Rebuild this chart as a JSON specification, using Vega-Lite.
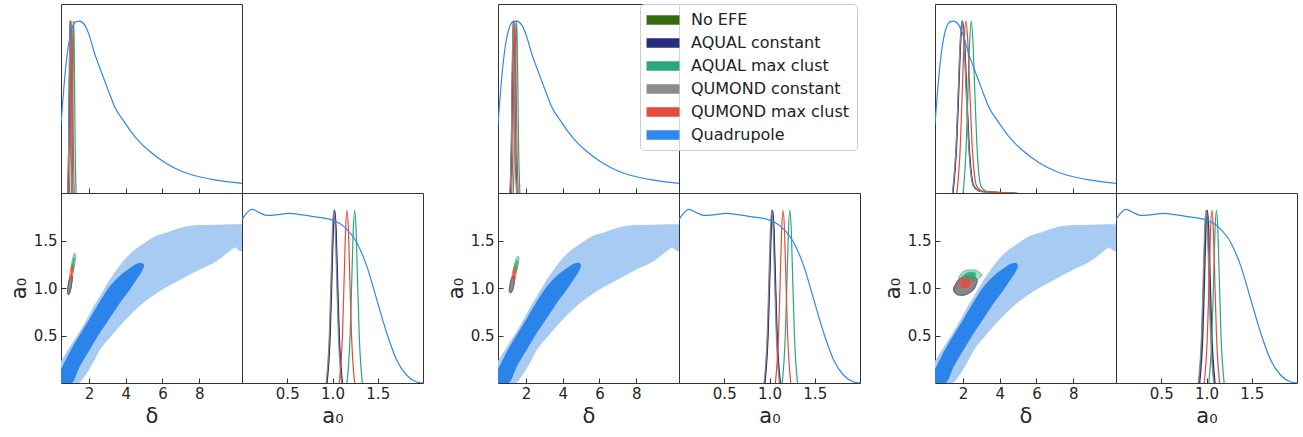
{
"$schema": "https://vega.github.io/schema/vega-lite/v6.json",
"padding": {"left": 7, "top": 3, "right": 0, "bottom": 0},
"config": {
 "view": {"stroke": "#333333", "strokeWidth": 1},
 "font": "DejaVu Sans",
 "axis": {"domain": false, "grid": false, "tickColor": "#333333", "tickSize": -5, "tickWidth": 1, "labelFont": "DejaVu Sans", "labelFontSize": 15, "labelColor": "#262626", "titleFont": "DejaVu Sans", "titleFontSize": 21, "titleFontWeight": "normal", "titleColor": "#262626", "labelPadding": 8, "titlePadding": 4}
},
"datasets": {
"lines": [
{"p":1,"m":"d","s":"No EFE","x":0.85,"y":0},{"p":1,"m":"d","s":"No EFE","x":0.90,"y":0.28},{"p":1,"m":"d","s":"No EFE","x":0.93,"y":0.61},{"p":1,"m":"d","s":"No EFE","x":0.955,"y":0.88},{"p":1,"m":"d","s":"No EFE","x":0.98,"y":1},{"p":1,"m":"d","s":"No EFE","x":1.005,"y":0.88},{"p":1,"m":"d","s":"No EFE","x":1.03,"y":0.61},{"p":1,"m":"d","s":"No EFE","x":1.06,"y":0.28},{"p":1,"m":"d","s":"No EFE","x":1.11,"y":0},
{"p":1,"m":"d","s":"AQUAL constant","x":0.86,"y":0},{"p":1,"m":"d","s":"AQUAL constant","x":0.91,"y":0.28},{"p":1,"m":"d","s":"AQUAL constant","x":0.94,"y":0.61},{"p":1,"m":"d","s":"AQUAL constant","x":0.965,"y":0.88},{"p":1,"m":"d","s":"AQUAL constant","x":0.99,"y":1},{"p":1,"m":"d","s":"AQUAL constant","x":1.015,"y":0.88},{"p":1,"m":"d","s":"AQUAL constant","x":1.04,"y":0.61},{"p":1,"m":"d","s":"AQUAL constant","x":1.07,"y":0.28},{"p":1,"m":"d","s":"AQUAL constant","x":1.12,"y":0},
{"p":1,"m":"d","s":"AQUAL max clust","x":1.04,"y":0},{"p":1,"m":"d","s":"AQUAL max clust","x":1.09,"y":0.28},{"p":1,"m":"d","s":"AQUAL max clust","x":1.12,"y":0.61},{"p":1,"m":"d","s":"AQUAL max clust","x":1.145,"y":0.88},{"p":1,"m":"d","s":"AQUAL max clust","x":1.17,"y":1},{"p":1,"m":"d","s":"AQUAL max clust","x":1.195,"y":0.88},{"p":1,"m":"d","s":"AQUAL max clust","x":1.22,"y":0.61},{"p":1,"m":"d","s":"AQUAL max clust","x":1.25,"y":0.28},{"p":1,"m":"d","s":"AQUAL max clust","x":1.30,"y":0},
{"p":1,"m":"d","s":"QUMOND constant","x":0.845,"y":0},{"p":1,"m":"d","s":"QUMOND constant","x":0.895,"y":0.28},{"p":1,"m":"d","s":"QUMOND constant","x":0.925,"y":0.61},{"p":1,"m":"d","s":"QUMOND constant","x":0.95,"y":0.88},{"p":1,"m":"d","s":"QUMOND constant","x":0.975,"y":1},{"p":1,"m":"d","s":"QUMOND constant","x":1.0,"y":0.88},{"p":1,"m":"d","s":"QUMOND constant","x":1.025,"y":0.61},{"p":1,"m":"d","s":"QUMOND constant","x":1.055,"y":0.28},{"p":1,"m":"d","s":"QUMOND constant","x":1.105,"y":0},
{"p":1,"m":"d","s":"QUMOND max clust","x":0.94,"y":0},{"p":1,"m":"d","s":"QUMOND max clust","x":0.99,"y":0.28},{"p":1,"m":"d","s":"QUMOND max clust","x":1.02,"y":0.61},{"p":1,"m":"d","s":"QUMOND max clust","x":1.045,"y":0.88},{"p":1,"m":"d","s":"QUMOND max clust","x":1.07,"y":1},{"p":1,"m":"d","s":"QUMOND max clust","x":1.095,"y":0.88},{"p":1,"m":"d","s":"QUMOND max clust","x":1.12,"y":0.61},{"p":1,"m":"d","s":"QUMOND max clust","x":1.15,"y":0.28},{"p":1,"m":"d","s":"QUMOND max clust","x":1.20,"y":0},

{"p":1,"m":"a","s":"No EFE","x":0.935,"y":0},{"p":1,"m":"a","s":"No EFE","x":0.97,"y":0.28},{"p":1,"m":"a","s":"No EFE","x":0.989,"y":0.61},{"p":1,"m":"a","s":"No EFE","x":1.004,"y":0.88},{"p":1,"m":"a","s":"No EFE","x":1.02,"y":1},{"p":1,"m":"a","s":"No EFE","x":1.036,"y":0.88},{"p":1,"m":"a","s":"No EFE","x":1.051,"y":0.61},{"p":1,"m":"a","s":"No EFE","x":1.07,"y":0.28},{"p":1,"m":"a","s":"No EFE","x":1.105,"y":0},
{"p":1,"m":"a","s":"AQUAL constant","x":0.94,"y":0},{"p":1,"m":"a","s":"AQUAL constant","x":0.975,"y":0.28},{"p":1,"m":"a","s":"AQUAL constant","x":0.994,"y":0.61},{"p":1,"m":"a","s":"AQUAL constant","x":1.009,"y":0.88},{"p":1,"m":"a","s":"AQUAL constant","x":1.025,"y":1},{"p":1,"m":"a","s":"AQUAL constant","x":1.041,"y":0.88},{"p":1,"m":"a","s":"AQUAL constant","x":1.056,"y":0.61},{"p":1,"m":"a","s":"AQUAL constant","x":1.075,"y":0.28},{"p":1,"m":"a","s":"AQUAL constant","x":1.11,"y":0},
{"p":1,"m":"a","s":"AQUAL max clust","x":1.16,"y":0},{"p":1,"m":"a","s":"AQUAL max clust","x":1.195,"y":0.28},{"p":1,"m":"a","s":"AQUAL max clust","x":1.214,"y":0.61},{"p":1,"m":"a","s":"AQUAL max clust","x":1.229,"y":0.88},{"p":1,"m":"a","s":"AQUAL max clust","x":1.245,"y":1},{"p":1,"m":"a","s":"AQUAL max clust","x":1.261,"y":0.88},{"p":1,"m":"a","s":"AQUAL max clust","x":1.276,"y":0.61},{"p":1,"m":"a","s":"AQUAL max clust","x":1.295,"y":0.28},{"p":1,"m":"a","s":"AQUAL max clust","x":1.33,"y":0},
{"p":1,"m":"a","s":"QUMOND constant","x":0.93,"y":0},{"p":1,"m":"a","s":"QUMOND constant","x":0.965,"y":0.28},{"p":1,"m":"a","s":"QUMOND constant","x":0.984,"y":0.61},{"p":1,"m":"a","s":"QUMOND constant","x":0.999,"y":0.88},{"p":1,"m":"a","s":"QUMOND constant","x":1.015,"y":1},{"p":1,"m":"a","s":"QUMOND constant","x":1.031,"y":0.88},{"p":1,"m":"a","s":"QUMOND constant","x":1.046,"y":0.61},{"p":1,"m":"a","s":"QUMOND constant","x":1.065,"y":0.28},{"p":1,"m":"a","s":"QUMOND constant","x":1.10,"y":0},
{"p":1,"m":"a","s":"QUMOND max clust","x":1.075,"y":0},{"p":1,"m":"a","s":"QUMOND max clust","x":1.11,"y":0.28},{"p":1,"m":"a","s":"QUMOND max clust","x":1.129,"y":0.61},{"p":1,"m":"a","s":"QUMOND max clust","x":1.144,"y":0.88},{"p":1,"m":"a","s":"QUMOND max clust","x":1.16,"y":1},{"p":1,"m":"a","s":"QUMOND max clust","x":1.176,"y":0.88},{"p":1,"m":"a","s":"QUMOND max clust","x":1.191,"y":0.61},{"p":1,"m":"a","s":"QUMOND max clust","x":1.21,"y":0.28},{"p":1,"m":"a","s":"QUMOND max clust","x":1.245,"y":0},

{"p":2,"m":"d","s":"No EFE","x":1.14,"y":0},{"p":2,"m":"d","s":"No EFE","x":1.21,"y":0.28},{"p":2,"m":"d","s":"No EFE","x":1.25,"y":0.61},{"p":2,"m":"d","s":"No EFE","x":1.285,"y":0.88},{"p":2,"m":"d","s":"No EFE","x":1.32,"y":1},{"p":2,"m":"d","s":"No EFE","x":1.355,"y":0.88},{"p":2,"m":"d","s":"No EFE","x":1.39,"y":0.61},{"p":2,"m":"d","s":"No EFE","x":1.43,"y":0.28},{"p":2,"m":"d","s":"No EFE","x":1.50,"y":0},
{"p":2,"m":"d","s":"AQUAL constant","x":1.15,"y":0},{"p":2,"m":"d","s":"AQUAL constant","x":1.22,"y":0.28},{"p":2,"m":"d","s":"AQUAL constant","x":1.26,"y":0.61},{"p":2,"m":"d","s":"AQUAL constant","x":1.295,"y":0.88},{"p":2,"m":"d","s":"AQUAL constant","x":1.33,"y":1},{"p":2,"m":"d","s":"AQUAL constant","x":1.365,"y":0.88},{"p":2,"m":"d","s":"AQUAL constant","x":1.40,"y":0.61},{"p":2,"m":"d","s":"AQUAL constant","x":1.44,"y":0.28},{"p":2,"m":"d","s":"AQUAL constant","x":1.51,"y":0},
{"p":2,"m":"d","s":"AQUAL max clust","x":1.31,"y":0},{"p":2,"m":"d","s":"AQUAL max clust","x":1.38,"y":0.28},{"p":2,"m":"d","s":"AQUAL max clust","x":1.42,"y":0.61},{"p":2,"m":"d","s":"AQUAL max clust","x":1.455,"y":0.88},{"p":2,"m":"d","s":"AQUAL max clust","x":1.49,"y":1},{"p":2,"m":"d","s":"AQUAL max clust","x":1.525,"y":0.88},{"p":2,"m":"d","s":"AQUAL max clust","x":1.56,"y":0.61},{"p":2,"m":"d","s":"AQUAL max clust","x":1.60,"y":0.28},{"p":2,"m":"d","s":"AQUAL max clust","x":1.67,"y":0},
{"p":2,"m":"d","s":"QUMOND constant","x":1.13,"y":0},{"p":2,"m":"d","s":"QUMOND constant","x":1.20,"y":0.28},{"p":2,"m":"d","s":"QUMOND constant","x":1.24,"y":0.61},{"p":2,"m":"d","s":"QUMOND constant","x":1.275,"y":0.88},{"p":2,"m":"d","s":"QUMOND constant","x":1.31,"y":1},{"p":2,"m":"d","s":"QUMOND constant","x":1.345,"y":0.88},{"p":2,"m":"d","s":"QUMOND constant","x":1.38,"y":0.61},{"p":2,"m":"d","s":"QUMOND constant","x":1.42,"y":0.28},{"p":2,"m":"d","s":"QUMOND constant","x":1.49,"y":0},
{"p":2,"m":"d","s":"QUMOND max clust","x":1.22,"y":0},{"p":2,"m":"d","s":"QUMOND max clust","x":1.29,"y":0.28},{"p":2,"m":"d","s":"QUMOND max clust","x":1.33,"y":0.61},{"p":2,"m":"d","s":"QUMOND max clust","x":1.365,"y":0.88},{"p":2,"m":"d","s":"QUMOND max clust","x":1.40,"y":1},{"p":2,"m":"d","s":"QUMOND max clust","x":1.435,"y":0.88},{"p":2,"m":"d","s":"QUMOND max clust","x":1.47,"y":0.61},{"p":2,"m":"d","s":"QUMOND max clust","x":1.51,"y":0.28},{"p":2,"m":"d","s":"QUMOND max clust","x":1.58,"y":0},

{"p":2,"m":"a","s":"No EFE","x":0.945,"y":0},{"p":2,"m":"a","s":"No EFE","x":0.98,"y":0.28},{"p":2,"m":"a","s":"No EFE","x":0.999,"y":0.61},{"p":2,"m":"a","s":"No EFE","x":1.014,"y":0.88},{"p":2,"m":"a","s":"No EFE","x":1.03,"y":1},{"p":2,"m":"a","s":"No EFE","x":1.046,"y":0.88},{"p":2,"m":"a","s":"No EFE","x":1.061,"y":0.61},{"p":2,"m":"a","s":"No EFE","x":1.08,"y":0.28},{"p":2,"m":"a","s":"No EFE","x":1.115,"y":0},
{"p":2,"m":"a","s":"AQUAL constant","x":0.95,"y":0},{"p":2,"m":"a","s":"AQUAL constant","x":0.985,"y":0.28},{"p":2,"m":"a","s":"AQUAL constant","x":1.004,"y":0.61},{"p":2,"m":"a","s":"AQUAL constant","x":1.019,"y":0.88},{"p":2,"m":"a","s":"AQUAL constant","x":1.035,"y":1},{"p":2,"m":"a","s":"AQUAL constant","x":1.051,"y":0.88},{"p":2,"m":"a","s":"AQUAL constant","x":1.066,"y":0.61},{"p":2,"m":"a","s":"AQUAL constant","x":1.085,"y":0.28},{"p":2,"m":"a","s":"AQUAL constant","x":1.12,"y":0},
{"p":2,"m":"a","s":"AQUAL max clust","x":1.14,"y":0},{"p":2,"m":"a","s":"AQUAL max clust","x":1.175,"y":0.28},{"p":2,"m":"a","s":"AQUAL max clust","x":1.194,"y":0.61},{"p":2,"m":"a","s":"AQUAL max clust","x":1.209,"y":0.88},{"p":2,"m":"a","s":"AQUAL max clust","x":1.225,"y":1},{"p":2,"m":"a","s":"AQUAL max clust","x":1.241,"y":0.88},{"p":2,"m":"a","s":"AQUAL max clust","x":1.256,"y":0.61},{"p":2,"m":"a","s":"AQUAL max clust","x":1.275,"y":0.28},{"p":2,"m":"a","s":"AQUAL max clust","x":1.31,"y":0},
{"p":2,"m":"a","s":"QUMOND constant","x":0.94,"y":0},{"p":2,"m":"a","s":"QUMOND constant","x":0.975,"y":0.28},{"p":2,"m":"a","s":"QUMOND constant","x":0.994,"y":0.61},{"p":2,"m":"a","s":"QUMOND constant","x":1.009,"y":0.88},{"p":2,"m":"a","s":"QUMOND constant","x":1.025,"y":1},{"p":2,"m":"a","s":"QUMOND constant","x":1.041,"y":0.88},{"p":2,"m":"a","s":"QUMOND constant","x":1.056,"y":0.61},{"p":2,"m":"a","s":"QUMOND constant","x":1.075,"y":0.28},{"p":2,"m":"a","s":"QUMOND constant","x":1.11,"y":0},
{"p":2,"m":"a","s":"QUMOND max clust","x":1.065,"y":0},{"p":2,"m":"a","s":"QUMOND max clust","x":1.10,"y":0.28},{"p":2,"m":"a","s":"QUMOND max clust","x":1.119,"y":0.61},{"p":2,"m":"a","s":"QUMOND max clust","x":1.134,"y":0.88},{"p":2,"m":"a","s":"QUMOND max clust","x":1.15,"y":1},{"p":2,"m":"a","s":"QUMOND max clust","x":1.166,"y":0.88},{"p":2,"m":"a","s":"QUMOND max clust","x":1.181,"y":0.61},{"p":2,"m":"a","s":"QUMOND max clust","x":1.20,"y":0.28},{"p":2,"m":"a","s":"QUMOND max clust","x":1.235,"y":0},

{"p":3,"m":"d","s":"No EFE","x":1.44,"y":0},{"p":3,"m":"d","s":"No EFE","x":1.64,"y":0.28},{"p":3,"m":"d","s":"No EFE","x":1.76,"y":0.61},{"p":3,"m":"d","s":"No EFE","x":1.86,"y":0.88},{"p":3,"m":"d","s":"No EFE","x":1.96,"y":1},{"p":3,"m":"d","s":"No EFE","x":2.07,"y":0.88},{"p":3,"m":"d","s":"No EFE","x":2.18,"y":0.61},{"p":3,"m":"d","s":"No EFE","x":2.32,"y":0.28},{"p":3,"m":"d","s":"No EFE","x":2.58,"y":0.04},{"p":3,"m":"d","s":"No EFE","x":2.96,"y":0.01},{"p":3,"m":"d","s":"No EFE","x":4.76,"y":0},
{"p":3,"m":"d","s":"AQUAL constant","x":1.46,"y":0},{"p":3,"m":"d","s":"AQUAL constant","x":1.66,"y":0.28},{"p":3,"m":"d","s":"AQUAL constant","x":1.78,"y":0.61},{"p":3,"m":"d","s":"AQUAL constant","x":1.88,"y":0.88},{"p":3,"m":"d","s":"AQUAL constant","x":1.98,"y":1},{"p":3,"m":"d","s":"AQUAL constant","x":2.09,"y":0.88},{"p":3,"m":"d","s":"AQUAL constant","x":2.20,"y":0.61},{"p":3,"m":"d","s":"AQUAL constant","x":2.34,"y":0.28},{"p":3,"m":"d","s":"AQUAL constant","x":2.60,"y":0.04},{"p":3,"m":"d","s":"AQUAL constant","x":2.98,"y":0.01},{"p":3,"m":"d","s":"AQUAL constant","x":4.78,"y":0},
{"p":3,"m":"d","s":"AQUAL max clust","x":2.01,"y":0},{"p":3,"m":"d","s":"AQUAL max clust","x":2.18,"y":0.28},{"p":3,"m":"d","s":"AQUAL max clust","x":2.28,"y":0.61},{"p":3,"m":"d","s":"AQUAL max clust","x":2.365,"y":0.88},{"p":3,"m":"d","s":"AQUAL max clust","x":2.45,"y":1},{"p":3,"m":"d","s":"AQUAL max clust","x":2.544,"y":0.88},{"p":3,"m":"d","s":"AQUAL max clust","x":2.64,"y":0.61},{"p":3,"m":"d","s":"AQUAL max clust","x":2.76,"y":0.28},{"p":3,"m":"d","s":"AQUAL max clust","x":2.98,"y":0.04},{"p":3,"m":"d","s":"AQUAL max clust","x":3.3,"y":0.01},{"p":3,"m":"d","s":"AQUAL max clust","x":5.0,"y":0},
{"p":3,"m":"d","s":"QUMOND constant","x":1.43,"y":0},{"p":3,"m":"d","s":"QUMOND constant","x":1.63,"y":0.28},{"p":3,"m":"d","s":"QUMOND constant","x":1.75,"y":0.61},{"p":3,"m":"d","s":"QUMOND constant","x":1.85,"y":0.88},{"p":3,"m":"d","s":"QUMOND constant","x":1.95,"y":1},{"p":3,"m":"d","s":"QUMOND constant","x":2.06,"y":0.88},{"p":3,"m":"d","s":"QUMOND constant","x":2.17,"y":0.61},{"p":3,"m":"d","s":"QUMOND constant","x":2.31,"y":0.28},{"p":3,"m":"d","s":"QUMOND constant","x":2.57,"y":0.04},{"p":3,"m":"d","s":"QUMOND constant","x":2.95,"y":0.01},{"p":3,"m":"d","s":"QUMOND constant","x":4.75,"y":0},
{"p":3,"m":"d","s":"QUMOND max clust","x":1.67,"y":0},{"p":3,"m":"d","s":"QUMOND max clust","x":1.86,"y":0.28},{"p":3,"m":"d","s":"QUMOND max clust","x":1.97,"y":0.61},{"p":3,"m":"d","s":"QUMOND max clust","x":2.065,"y":0.88},{"p":3,"m":"d","s":"QUMOND max clust","x":2.16,"y":1},{"p":3,"m":"d","s":"QUMOND max clust","x":2.265,"y":0.88},{"p":3,"m":"d","s":"QUMOND max clust","x":2.37,"y":0.61},{"p":3,"m":"d","s":"QUMOND max clust","x":2.50,"y":0.28},{"p":3,"m":"d","s":"QUMOND max clust","x":2.75,"y":0.04},{"p":3,"m":"d","s":"QUMOND max clust","x":3.1,"y":0.01},{"p":3,"m":"d","s":"QUMOND max clust","x":4.9,"y":0},

{"p":3,"m":"a","s":"No EFE","x":0.915,"y":0},{"p":3,"m":"a","s":"No EFE","x":0.95,"y":0.28},{"p":3,"m":"a","s":"No EFE","x":0.969,"y":0.61},{"p":3,"m":"a","s":"No EFE","x":0.984,"y":0.88},{"p":3,"m":"a","s":"No EFE","x":1.0,"y":1},{"p":3,"m":"a","s":"No EFE","x":1.016,"y":0.88},{"p":3,"m":"a","s":"No EFE","x":1.031,"y":0.61},{"p":3,"m":"a","s":"No EFE","x":1.05,"y":0.28},{"p":3,"m":"a","s":"No EFE","x":1.085,"y":0},
{"p":3,"m":"a","s":"AQUAL constant","x":0.925,"y":0},{"p":3,"m":"a","s":"AQUAL constant","x":0.96,"y":0.28},{"p":3,"m":"a","s":"AQUAL constant","x":0.979,"y":0.61},{"p":3,"m":"a","s":"AQUAL constant","x":0.994,"y":0.88},{"p":3,"m":"a","s":"AQUAL constant","x":1.01,"y":1},{"p":3,"m":"a","s":"AQUAL constant","x":1.026,"y":0.88},{"p":3,"m":"a","s":"AQUAL constant","x":1.041,"y":0.61},{"p":3,"m":"a","s":"AQUAL constant","x":1.06,"y":0.28},{"p":3,"m":"a","s":"AQUAL constant","x":1.095,"y":0},
{"p":3,"m":"a","s":"AQUAL max clust","x":1.025,"y":0},{"p":3,"m":"a","s":"AQUAL max clust","x":1.06,"y":0.28},{"p":3,"m":"a","s":"AQUAL max clust","x":1.079,"y":0.61},{"p":3,"m":"a","s":"AQUAL max clust","x":1.094,"y":0.88},{"p":3,"m":"a","s":"AQUAL max clust","x":1.11,"y":1},{"p":3,"m":"a","s":"AQUAL max clust","x":1.126,"y":0.88},{"p":3,"m":"a","s":"AQUAL max clust","x":1.141,"y":0.61},{"p":3,"m":"a","s":"AQUAL max clust","x":1.16,"y":0.28},{"p":3,"m":"a","s":"AQUAL max clust","x":1.195,"y":0},
{"p":3,"m":"a","s":"QUMOND constant","x":0.91,"y":0},{"p":3,"m":"a","s":"QUMOND constant","x":0.945,"y":0.28},{"p":3,"m":"a","s":"QUMOND constant","x":0.964,"y":0.61},{"p":3,"m":"a","s":"QUMOND constant","x":0.979,"y":0.88},{"p":3,"m":"a","s":"QUMOND constant","x":0.995,"y":1},{"p":3,"m":"a","s":"QUMOND constant","x":1.011,"y":0.88},{"p":3,"m":"a","s":"QUMOND constant","x":1.026,"y":0.61},{"p":3,"m":"a","s":"QUMOND constant","x":1.045,"y":0.28},{"p":3,"m":"a","s":"QUMOND constant","x":1.08,"y":0},
{"p":3,"m":"a","s":"QUMOND max clust","x":0.975,"y":0},{"p":3,"m":"a","s":"QUMOND max clust","x":1.01,"y":0.28},{"p":3,"m":"a","s":"QUMOND max clust","x":1.029,"y":0.61},{"p":3,"m":"a","s":"QUMOND max clust","x":1.044,"y":0.88},{"p":3,"m":"a","s":"QUMOND max clust","x":1.06,"y":1},{"p":3,"m":"a","s":"QUMOND max clust","x":1.076,"y":0.88},{"p":3,"m":"a","s":"QUMOND max clust","x":1.091,"y":0.61},{"p":3,"m":"a","s":"QUMOND max clust","x":1.11,"y":0.28},{"p":3,"m":"a","s":"QUMOND max clust","x":1.145,"y":0},

{"p":0,"m":"d","s":"Quadrupole","x":0.48,"y":0.40},{"p":0,"m":"d","s":"Quadrupole","x":0.76,"y":0.755},{"p":0,"m":"d","s":"Quadrupole","x":1.03,"y":0.939},{"p":0,"m":"d","s":"Quadrupole","x":1.31,"y":0.997},{"p":0,"m":"d","s":"Quadrupole","x":1.49,"y":1.0},{"p":0,"m":"d","s":"Quadrupole","x":1.77,"y":0.978},{"p":0,"m":"d","s":"Quadrupole","x":2.04,"y":0.91},{"p":0,"m":"d","s":"Quadrupole","x":2.31,"y":0.813},{"p":0,"m":"d","s":"Quadrupole","x":2.67,"y":0.706},{"p":0,"m":"d","s":"Quadrupole","x":3.04,"y":0.6},{"p":0,"m":"d","s":"Quadrupole","x":3.4,"y":0.502},{"p":0,"m":"d","s":"Quadrupole","x":3.95,"y":0.41},{"p":0,"m":"d","s":"Quadrupole","x":4.49,"y":0.33},{"p":0,"m":"d","s":"Quadrupole","x":5.22,"y":0.25},{"p":0,"m":"d","s":"Quadrupole","x":6.13,"y":0.178},{"p":0,"m":"d","s":"Quadrupole","x":7.04,"y":0.127},{"p":0,"m":"d","s":"Quadrupole","x":7.95,"y":0.096},{"p":0,"m":"d","s":"Quadrupole","x":8.86,"y":0.076},{"p":0,"m":"d","s":"Quadrupole","x":10.33,"y":0.056},

{"p":0,"m":"a","s":"Quadrupole","x":0.0,"y":0.947},{"p":0,"m":"a","s":"Quadrupole","x":0.11,"y":1.005},{"p":0,"m":"a","s":"Quadrupole","x":0.2,"y":0.985},{"p":0,"m":"a","s":"Quadrupole","x":0.276,"y":0.97},{"p":0,"m":"a","s":"Quadrupole","x":0.4,"y":0.975},{"p":0,"m":"a","s":"Quadrupole","x":0.515,"y":0.982},{"p":0,"m":"a","s":"Quadrupole","x":0.65,"y":0.975},{"p":0,"m":"a","s":"Quadrupole","x":0.79,"y":0.963},{"p":0,"m":"a","s":"Quadrupole","x":0.975,"y":0.947},{"p":0,"m":"a","s":"Quadrupole","x":1.12,"y":0.908},{"p":0,"m":"a","s":"Quadrupole","x":1.27,"y":0.811},{"p":0,"m":"a","s":"Quadrupole","x":1.38,"y":0.675},{"p":0,"m":"a","s":"Quadrupole","x":1.49,"y":0.481},{"p":0,"m":"a","s":"Quadrupole","x":1.6,"y":0.288},{"p":0,"m":"a","s":"Quadrupole","x":1.71,"y":0.132},{"p":0,"m":"a","s":"Quadrupole","x":1.82,"y":0.045},{"p":0,"m":"a","s":"Quadrupole","x":1.93,"y":0.006},{"p":0,"m":"a","s":"Quadrupole","x":2.0,"y":0.0}
],
"cont": [
{"p":0,"s":"Quadrupole","lev":"o","x":0.47,"lo":0,"hi":0.229},{"p":0,"s":"Quadrupole","lev":"o","x":1.0,"lo":0,"hi":0.392},{"p":0,"s":"Quadrupole","lev":"o","x":1.42,"lo":0,"hi":0.52},{"p":0,"s":"Quadrupole","lev":"o","x":1.87,"lo":0.10,"hi":0.669},{"p":0,"s":"Quadrupole","lev":"o","x":2.3,"lo":0.24,"hi":0.82},{"p":0,"s":"Quadrupole","lev":"o","x":2.6,"lo":0.35,"hi":0.916},{"p":0,"s":"Quadrupole","lev":"o","x":3.15,"lo":0.48,"hi":1.092},{"p":0,"s":"Quadrupole","lev":"o","x":3.5,"lo":0.56,"hi":1.19},{"p":0,"s":"Quadrupole","lev":"o","x":3.87,"lo":0.64,"hi":1.285},{"p":0,"s":"Quadrupole","lev":"o","x":4.42,"lo":0.75,"hi":1.391},{"p":0,"s":"Quadrupole","lev":"o","x":5.0,"lo":0.85,"hi":1.47},{"p":0,"s":"Quadrupole","lev":"o","x":5.5,"lo":0.92,"hi":1.535},{"p":0,"s":"Quadrupole","lev":"o","x":6.24,"lo":1.01,"hi":1.584},{"p":0,"s":"Quadrupole","lev":"o","x":7.0,"lo":1.09,"hi":1.635},{"p":0,"s":"Quadrupole","lev":"o","x":8.05,"lo":1.197,"hi":1.662},{"p":0,"s":"Quadrupole","lev":"o","x":8.96,"lo":1.285,"hi":1.665},{"p":0,"s":"Quadrupole","lev":"o","x":9.69,"lo":1.391,"hi":1.67},{"p":0,"s":"Quadrupole","lev":"o","x":9.96,"lo":1.426,"hi":1.672},{"p":0,"s":"Quadrupole","lev":"o","x":10.15,"lo":1.398,"hi":1.672},{"p":0,"s":"Quadrupole","lev":"o","x":10.35,"lo":1.387,"hi":1.672},
{"p":0,"s":"Quadrupole","lev":"i","x":0.47,"lo":0,"hi":0.141},{"p":0,"s":"Quadrupole","lev":"i","x":1.05,"lo":0,"hi":0.36},{"p":0,"s":"Quadrupole","lev":"i","x":1.51,"lo":0.176,"hi":0.51},{"p":0,"s":"Quadrupole","lev":"i","x":2.05,"lo":0.352,"hi":0.68},{"p":0,"s":"Quadrupole","lev":"i","x":2.6,"lo":0.528,"hi":0.86},{"p":0,"s":"Quadrupole","lev":"i","x":3.15,"lo":0.687,"hi":1.02},{"p":0,"s":"Quadrupole","lev":"i","x":3.69,"lo":0.845,"hi":1.13},{"p":0,"s":"Quadrupole","lev":"i","x":4.24,"lo":0.986,"hi":1.21},{"p":0,"s":"Quadrupole","lev":"i","x":4.6,"lo":1.092,"hi":1.255},{"p":0,"s":"Quadrupole","lev":"i","x":4.87,"lo":1.17,"hi":1.265},{"p":0,"s":"Quadrupole","lev":"i","x":5.0,"lo":1.23,"hi":1.24},

{"p":1,"s":"No EFE","lev":"o","x":0.84,"lo":0.95,"hi":0.98},{"p":1,"s":"No EFE","lev":"o","x":0.90,"lo":0.93,"hi":1.06},{"p":1,"s":"No EFE","lev":"o","x":0.97,"lo":0.96,"hi":1.11},{"p":1,"s":"No EFE","lev":"o","x":1.04,"lo":1.02,"hi":1.13},{"p":1,"s":"No EFE","lev":"o","x":1.09,"lo":1.09,"hi":1.12},
{"p":1,"s":"AQUAL constant","lev":"o","x":0.84,"lo":0.95,"hi":0.98},{"p":1,"s":"AQUAL constant","lev":"o","x":0.90,"lo":0.93,"hi":1.06},{"p":1,"s":"AQUAL constant","lev":"o","x":0.97,"lo":0.96,"hi":1.11},{"p":1,"s":"AQUAL constant","lev":"o","x":1.04,"lo":1.02,"hi":1.13},{"p":1,"s":"AQUAL constant","lev":"o","x":1.09,"lo":1.09,"hi":1.12},
{"p":1,"s":"AQUAL max clust","lev":"o","x":1.03,"lo":1.18,"hi":1.21},{"p":1,"s":"AQUAL max clust","lev":"o","x":1.09,"lo":1.175,"hi":1.29},{"p":1,"s":"AQUAL max clust","lev":"o","x":1.16,"lo":1.20,"hi":1.345},{"p":1,"s":"AQUAL max clust","lev":"o","x":1.23,"lo":1.26,"hi":1.365},{"p":1,"s":"AQUAL max clust","lev":"o","x":1.28,"lo":1.32,"hi":1.35},
{"p":1,"s":"QUMOND constant","lev":"o","x":0.84,"lo":0.95,"hi":0.98},{"p":1,"s":"QUMOND constant","lev":"o","x":0.90,"lo":0.93,"hi":1.06},{"p":1,"s":"QUMOND constant","lev":"o","x":0.97,"lo":0.96,"hi":1.11},{"p":1,"s":"QUMOND constant","lev":"o","x":1.04,"lo":1.02,"hi":1.13},{"p":1,"s":"QUMOND constant","lev":"o","x":1.09,"lo":1.09,"hi":1.12},
{"p":1,"s":"QUMOND max clust","lev":"o","x":0.94,"lo":1.08,"hi":1.11},{"p":1,"s":"QUMOND max clust","lev":"o","x":1.0,"lo":1.075,"hi":1.19},{"p":1,"s":"QUMOND max clust","lev":"o","x":1.07,"lo":1.10,"hi":1.24},{"p":1,"s":"QUMOND max clust","lev":"o","x":1.14,"lo":1.16,"hi":1.26},{"p":1,"s":"QUMOND max clust","lev":"o","x":1.19,"lo":1.22,"hi":1.25},
{"p":1,"s":"AQUAL max clust","lev":"i","x":1.08,"lo":1.20,"hi":1.23},{"p":1,"s":"AQUAL max clust","lev":"i","x":1.13,"lo":1.205,"hi":1.29},{"p":1,"s":"AQUAL max clust","lev":"i","x":1.18,"lo":1.24,"hi":1.32},{"p":1,"s":"AQUAL max clust","lev":"i","x":1.23,"lo":1.29,"hi":1.32},
{"p":1,"s":"QUMOND constant","lev":"i","x":0.89,"lo":0.97,"hi":1.0},{"p":1,"s":"QUMOND constant","lev":"i","x":0.94,"lo":0.965,"hi":1.06},{"p":1,"s":"QUMOND constant","lev":"i","x":0.99,"lo":1.0,"hi":1.09},{"p":1,"s":"QUMOND constant","lev":"i","x":1.04,"lo":1.05,"hi":1.08},
{"p":1,"s":"QUMOND max clust","lev":"i","x":0.99,"lo":1.10,"hi":1.13},{"p":1,"s":"QUMOND max clust","lev":"i","x":1.04,"lo":1.105,"hi":1.19},{"p":1,"s":"QUMOND max clust","lev":"i","x":1.09,"lo":1.14,"hi":1.22},{"p":1,"s":"QUMOND max clust","lev":"i","x":1.14,"lo":1.19,"hi":1.22},

{"p":2,"s":"No EFE","lev":"o","x":1.10,"lo":0.96,"hi":0.99},{"p":2,"s":"No EFE","lev":"o","x":1.17,"lo":0.95,"hi":1.07},{"p":2,"s":"No EFE","lev":"o","x":1.25,"lo":0.97,"hi":1.11},{"p":2,"s":"No EFE","lev":"o","x":1.33,"lo":1.02,"hi":1.13},{"p":2,"s":"No EFE","lev":"o","x":1.39,"lo":1.09,"hi":1.12},
{"p":2,"s":"AQUAL constant","lev":"o","x":1.10,"lo":0.96,"hi":0.99},{"p":2,"s":"AQUAL constant","lev":"o","x":1.17,"lo":0.95,"hi":1.07},{"p":2,"s":"AQUAL constant","lev":"o","x":1.25,"lo":0.97,"hi":1.11},{"p":2,"s":"AQUAL constant","lev":"o","x":1.33,"lo":1.02,"hi":1.13},{"p":2,"s":"AQUAL constant","lev":"o","x":1.39,"lo":1.09,"hi":1.12},
{"p":2,"s":"AQUAL max clust","lev":"o","x":1.33,"lo":1.16,"hi":1.19},{"p":2,"s":"AQUAL max clust","lev":"o","x":1.40,"lo":1.15,"hi":1.27},{"p":2,"s":"AQUAL max clust","lev":"o","x":1.48,"lo":1.18,"hi":1.315},{"p":2,"s":"AQUAL max clust","lev":"o","x":1.56,"lo":1.23,"hi":1.335},{"p":2,"s":"AQUAL max clust","lev":"o","x":1.62,"lo":1.30,"hi":1.325},
{"p":2,"s":"QUMOND constant","lev":"o","x":1.10,"lo":0.96,"hi":0.99},{"p":2,"s":"QUMOND constant","lev":"o","x":1.17,"lo":0.95,"hi":1.07},{"p":2,"s":"QUMOND constant","lev":"o","x":1.25,"lo":0.97,"hi":1.11},{"p":2,"s":"QUMOND constant","lev":"o","x":1.33,"lo":1.02,"hi":1.13},{"p":2,"s":"QUMOND constant","lev":"o","x":1.39,"lo":1.09,"hi":1.12},
{"p":2,"s":"QUMOND max clust","lev":"o","x":1.22,"lo":1.07,"hi":1.10},{"p":2,"s":"QUMOND max clust","lev":"o","x":1.29,"lo":1.06,"hi":1.18},{"p":2,"s":"QUMOND max clust","lev":"o","x":1.37,"lo":1.09,"hi":1.23},{"p":2,"s":"QUMOND max clust","lev":"o","x":1.45,"lo":1.14,"hi":1.245},{"p":2,"s":"QUMOND max clust","lev":"o","x":1.51,"lo":1.21,"hi":1.235},
{"p":2,"s":"AQUAL max clust","lev":"i","x":1.38,"lo":1.18,"hi":1.21},{"p":2,"s":"AQUAL max clust","lev":"i","x":1.44,"lo":1.18,"hi":1.26},{"p":2,"s":"AQUAL max clust","lev":"i","x":1.50,"lo":1.21,"hi":1.29},{"p":2,"s":"AQUAL max clust","lev":"i","x":1.56,"lo":1.26,"hi":1.29},
{"p":2,"s":"QUMOND constant","lev":"i","x":1.15,"lo":0.98,"hi":1.01},{"p":2,"s":"QUMOND constant","lev":"i","x":1.21,"lo":0.975,"hi":1.06},{"p":2,"s":"QUMOND constant","lev":"i","x":1.27,"lo":1.0,"hi":1.09},{"p":2,"s":"QUMOND constant","lev":"i","x":1.33,"lo":1.05,"hi":1.08},
{"p":2,"s":"QUMOND max clust","lev":"i","x":1.27,"lo":1.09,"hi":1.12},{"p":2,"s":"QUMOND max clust","lev":"i","x":1.33,"lo":1.09,"hi":1.17},{"p":2,"s":"QUMOND max clust","lev":"i","x":1.39,"lo":1.12,"hi":1.20},{"p":2,"s":"QUMOND max clust","lev":"i","x":1.45,"lo":1.17,"hi":1.20},

{"p":3,"s":"No EFE","lev":"o","x":1.5,"lo":0.97,"hi":1.0},{"p":3,"s":"No EFE","lev":"o","x":1.7,"lo":0.93,"hi":1.07},{"p":3,"s":"No EFE","lev":"o","x":2.0,"lo":0.925,"hi":1.11},{"p":3,"s":"No EFE","lev":"o","x":2.3,"lo":0.945,"hi":1.12},{"p":3,"s":"No EFE","lev":"o","x":2.6,"lo":0.99,"hi":1.12},{"p":3,"s":"No EFE","lev":"o","x":2.76,"lo":1.06,"hi":1.09},
{"p":3,"s":"AQUAL constant","lev":"o","x":1.5,"lo":0.97,"hi":1.0},{"p":3,"s":"AQUAL constant","lev":"o","x":1.7,"lo":0.93,"hi":1.07},{"p":3,"s":"AQUAL constant","lev":"o","x":2.0,"lo":0.925,"hi":1.11},{"p":3,"s":"AQUAL constant","lev":"o","x":2.3,"lo":0.945,"hi":1.12},{"p":3,"s":"AQUAL constant","lev":"o","x":2.6,"lo":0.99,"hi":1.12},{"p":3,"s":"AQUAL constant","lev":"o","x":2.76,"lo":1.06,"hi":1.09},
{"p":3,"s":"AQUAL max clust","lev":"o","x":1.77,"lo":1.07,"hi":1.11},{"p":3,"s":"AQUAL max clust","lev":"o","x":2.0,"lo":1.03,"hi":1.17},{"p":3,"s":"AQUAL max clust","lev":"o","x":2.3,"lo":1.03,"hi":1.19},{"p":3,"s":"AQUAL max clust","lev":"o","x":2.6,"lo":1.06,"hi":1.19},{"p":3,"s":"AQUAL max clust","lev":"o","x":2.85,"lo":1.10,"hi":1.17},{"p":3,"s":"AQUAL max clust","lev":"o","x":3.04,"lo":1.13,"hi":1.14},
{"p":3,"s":"QUMOND constant","lev":"o","x":1.5,"lo":0.97,"hi":1.0},{"p":3,"s":"QUMOND constant","lev":"o","x":1.7,"lo":0.93,"hi":1.07},{"p":3,"s":"QUMOND constant","lev":"o","x":2.0,"lo":0.925,"hi":1.11},{"p":3,"s":"QUMOND constant","lev":"o","x":2.3,"lo":0.945,"hi":1.12},{"p":3,"s":"QUMOND constant","lev":"o","x":2.6,"lo":0.99,"hi":1.12},{"p":3,"s":"QUMOND constant","lev":"o","x":2.76,"lo":1.06,"hi":1.09},
{"p":3,"s":"QUMOND max clust","lev":"o","x":1.67,"lo":1.0,"hi":1.04},{"p":3,"s":"QUMOND max clust","lev":"o","x":1.85,"lo":0.97,"hi":1.10},{"p":3,"s":"QUMOND max clust","lev":"o","x":2.1,"lo":0.965,"hi":1.13},{"p":3,"s":"QUMOND max clust","lev":"o","x":2.35,"lo":0.99,"hi":1.13},{"p":3,"s":"QUMOND max clust","lev":"o","x":2.58,"lo":1.05,"hi":1.10},
{"p":3,"s":"AQUAL max clust","lev":"i","x":2.0,"lo":1.10,"hi":1.13},{"p":3,"s":"AQUAL max clust","lev":"i","x":2.2,"lo":1.08,"hi":1.16},{"p":3,"s":"AQUAL max clust","lev":"i","x":2.45,"lo":1.09,"hi":1.17},{"p":3,"s":"AQUAL max clust","lev":"i","x":2.7,"lo":1.12,"hi":1.16},
{"p":3,"s":"QUMOND constant","lev":"i","x":1.7,"lo":0.98,"hi":1.02},{"p":3,"s":"QUMOND constant","lev":"i","x":1.9,"lo":0.96,"hi":1.07},{"p":3,"s":"QUMOND constant","lev":"i","x":2.2,"lo":0.97,"hi":1.09},{"p":3,"s":"QUMOND constant","lev":"i","x":2.45,"lo":1.0,"hi":1.08},{"p":3,"s":"QUMOND constant","lev":"i","x":2.6,"lo":1.04,"hi":1.06},
{"p":3,"s":"QUMOND max clust","lev":"i","x":1.85,"lo":1.02,"hi":1.06},{"p":3,"s":"QUMOND max clust","lev":"i","x":2.0,"lo":1.0,"hi":1.09},{"p":3,"s":"QUMOND max clust","lev":"i","x":2.2,"lo":1.0,"hi":1.10},{"p":3,"s":"QUMOND max clust","lev":"i","x":2.4,"lo":1.03,"hi":1.09}
]
},
"columns": 8,
"spacing": 0,
"bounds": "flush",
"align": "each",
"concat": [
  {"width": 181, "height": 189, "data": {"name": "lines"}, "transform": [{"filter": "datum.m=='d' && (datum.p==0 || datum.p==1)"}],
   "mark": {"type": "line", "strokeWidth": 1.2, "interpolate": "monotone", "clip": true},
   "encoding": {
    "x": {"field": "x", "type": "quantitative", "scale": {"domain": [0.48, 10.33], "nice": false, "zero": false}, "axis": {"values": [2,4,6,8], "labels": false, "title": null}},
    "y": {"field": "y", "type": "quantitative", "scale": {"domain": [0, 1.1], "nice": false}, "axis": null},
    "color": {"field": "s", "type": "nominal", "scale": {"domain": ["No EFE","AQUAL constant","AQUAL max clust","QUMOND constant","QUMOND max clust","Quadrupole"], "range": ["#356b10","#282d7d","#2aa87d","#8c8c8c","#e44b3c","#2f88ef"]},
     "legend": {"title": null, "orient": "none", "legendX": 579, "legendY": 0, "symbolType": "M-1.9,-0.54H1.9V0.54H-1.9Z", "symbolSize": 300, "symbolOffset": 7, "symbolStrokeWidth": 0, "labelFont": "DejaVu Sans", "labelFontSize": 16, "labelColor": "#222222", "labelOffset": 19, "labelLimit": 300, "rowPadding": 6, "padding": 7, "strokeColor": "#cccccc", "fillColor": "rgba(255,255,255,0.8)", "cornerRadius": 4,
      "encode": {"symbols": {"update": {"fill": {"scale": "color", "field": "value"}, "fillOpacity": {"value": 1}, "opacity": {"value": 1}, "strokeWidth": {"value": 0}}}}}}}},
  {"width": 181, "height": 189, "data": {"values": []}, "mark": "point", "view": {"stroke": null}},
  {"width": 74.5, "height": 189, "data": {"values": []}, "mark": "point", "view": {"stroke": null}},
  {"width": 181, "height": 189, "data": {"name": "lines"}, "transform": [{"filter": "datum.m=='d' && (datum.p==0 || datum.p==2)"}],
   "mark": {"type": "line", "strokeWidth": 1.2, "interpolate": "monotone", "clip": true},
   "encoding": {
    "x": {"field": "x", "type": "quantitative", "scale": {"domain": [0.48, 10.33], "nice": false, "zero": false}, "axis": {"values": [2,4,6,8], "labels": false, "title": null}},
    "y": {"field": "y", "type": "quantitative", "scale": {"domain": [0, 1.1], "nice": false}, "axis": null},
    "color": {"field": "s", "type": "nominal", "legend": null}}},
  {"width": 181, "height": 189, "data": {"values": []}, "mark": "point", "view": {"stroke": null}},
  {"width": 74.5, "height": 189, "data": {"values": []}, "mark": "point", "view": {"stroke": null}},
  {"width": 181, "height": 189, "data": {"name": "lines"}, "transform": [{"filter": "datum.m=='d' && (datum.p==0 || datum.p==3)"}],
   "mark": {"type": "line", "strokeWidth": 1.2, "interpolate": "monotone", "clip": true},
   "encoding": {
    "x": {"field": "x", "type": "quantitative", "scale": {"domain": [0.48, 10.33], "nice": false, "zero": false}, "axis": {"values": [2,4,6,8], "labels": false, "title": null}},
    "y": {"field": "y", "type": "quantitative", "scale": {"domain": [0, 1.1], "nice": false}, "axis": null},
    "color": {"field": "s", "type": "nominal", "legend": null}}},
  {"width": 181, "height": 189, "data": {"values": []}, "mark": "point", "view": {"stroke": null}},

  {"width": 181, "height": 190, "layer": [
    {"data": {"name": "cont"}, "transform": [{"filter": "datum.p==0 && datum.lev=='o'"}], "mark": {"type": "area", "color": "#a8cbf3", "interpolate": "monotone", "clip": true},
     "encoding": {"x": {"field": "x", "type": "quantitative", "scale": {"domain": [0.48, 10.33], "nice": false, "zero": false}, "axis": {"values": [2,4,6,8], "format": "d", "title": "δ"}},
      "y": {"field": "lo", "type": "quantitative", "scale": {"domain": [0, 2.0], "nice": false}, "axis": {"values": [0.5,1,1.5], "format": ".1f", "title": "a₀", "labelPadding": 9}}, "y2": {"field": "hi"}}},
    {"data": {"name": "cont"}, "transform": [{"filter": "datum.p==0 && datum.lev=='i'"}], "mark": {"type": "area", "color": "#2a84e9", "interpolate": "monotone", "clip": true},
     "encoding": {"x": {"field": "x", "type": "quantitative"}, "y": {"field": "lo", "type": "quantitative"}, "y2": {"field": "hi"}}},
    {"data": {"name": "cont"}, "transform": [{"filter": "datum.p==1 && datum.lev=='o'"}], "mark": {"type": "area", "fillOpacity": 0.4, "strokeWidth": 0.8, "strokeOpacity": 0.85, "interpolate": "monotone", "clip": true},
     "encoding": {"x": {"field": "x", "type": "quantitative"}, "y": {"field": "lo", "type": "quantitative"}, "y2": {"field": "hi"}, "color": {"field": "s", "type": "nominal", "legend": null},
      "stroke": {"field": "s", "type": "nominal", "scale": {"domain": ["No EFE","AQUAL constant","AQUAL max clust","QUMOND constant","QUMOND max clust","Quadrupole"], "range": ["#356b10","#282d7d","#2aa87d","#777777","#e44b3c","#2f88ef"]}, "legend": null}}},
    {"data": {"name": "cont"}, "transform": [{"filter": "datum.p==1 && datum.lev=='i'"}], "mark": {"type": "area", "opacity": 0.85, "interpolate": "monotone", "clip": true},
     "encoding": {"x": {"field": "x", "type": "quantitative"}, "y": {"field": "lo", "type": "quantitative"}, "y2": {"field": "hi"}, "color": {"field": "s", "type": "nominal", "legend": null}}}
  ]},
  {"width": 181, "height": 190, "data": {"name": "lines"}, "transform": [{"filter": "datum.m=='a' && (datum.p==0 || datum.p==1)"}],
   "mark": {"type": "line", "strokeWidth": 1.2, "interpolate": "monotone", "clip": true},
   "encoding": {
    "x": {"field": "x", "type": "quantitative", "scale": {"domain": [0, 2.0], "nice": false, "zero": false}, "axis": {"values": [0.5,1,1.5], "format": ".1f", "title": "a₀"}},
    "y": {"field": "y", "type": "quantitative", "scale": {"domain": [0, 1.1], "nice": false}, "axis": null},
    "color": {"field": "s", "type": "nominal", "legend": null}}},
  {"width": 74.5, "height": 190, "data": {"values": []}, "mark": "point", "view": {"stroke": null}},
  {"width": 181, "height": 190, "layer": [
    {"data": {"name": "cont"}, "transform": [{"filter": "datum.p==0 && datum.lev=='o'"}], "mark": {"type": "area", "color": "#a8cbf3", "interpolate": "monotone", "clip": true},
     "encoding": {"x": {"field": "x", "type": "quantitative", "scale": {"domain": [0.48, 10.33], "nice": false, "zero": false}, "axis": {"values": [2,4,6,8], "format": "d", "title": "δ"}},
      "y": {"field": "lo", "type": "quantitative", "scale": {"domain": [0, 2.0], "nice": false}, "axis": {"values": [0.5,1,1.5], "format": ".1f", "title": "a₀", "labelPadding": 9}}, "y2": {"field": "hi"}}},
    {"data": {"name": "cont"}, "transform": [{"filter": "datum.p==0 && datum.lev=='i'"}], "mark": {"type": "area", "color": "#2a84e9", "interpolate": "monotone", "clip": true},
     "encoding": {"x": {"field": "x", "type": "quantitative"}, "y": {"field": "lo", "type": "quantitative"}, "y2": {"field": "hi"}}},
    {"data": {"name": "cont"}, "transform": [{"filter": "datum.p==2 && datum.lev=='o'"}], "mark": {"type": "area", "fillOpacity": 0.4, "strokeWidth": 0.8, "strokeOpacity": 0.85, "interpolate": "monotone", "clip": true},
     "encoding": {"x": {"field": "x", "type": "quantitative"}, "y": {"field": "lo", "type": "quantitative"}, "y2": {"field": "hi"}, "color": {"field": "s", "type": "nominal", "legend": null},
      "stroke": {"field": "s", "type": "nominal", "scale": {"domain": ["No EFE","AQUAL constant","AQUAL max clust","QUMOND constant","QUMOND max clust","Quadrupole"], "range": ["#356b10","#282d7d","#2aa87d","#777777","#e44b3c","#2f88ef"]}, "legend": null}}},
    {"data": {"name": "cont"}, "transform": [{"filter": "datum.p==2 && datum.lev=='i'"}], "mark": {"type": "area", "opacity": 0.85, "interpolate": "monotone", "clip": true},
     "encoding": {"x": {"field": "x", "type": "quantitative"}, "y": {"field": "lo", "type": "quantitative"}, "y2": {"field": "hi"}, "color": {"field": "s", "type": "nominal", "legend": null}}}
  ]},
  {"width": 181, "height": 190, "data": {"name": "lines"}, "transform": [{"filter": "datum.m=='a' && (datum.p==0 || datum.p==2)"}],
   "mark": {"type": "line", "strokeWidth": 1.2, "interpolate": "monotone", "clip": true},
   "encoding": {
    "x": {"field": "x", "type": "quantitative", "scale": {"domain": [0, 2.0], "nice": false, "zero": false}, "axis": {"values": [0.5,1,1.5], "format": ".1f", "title": "a₀"}},
    "y": {"field": "y", "type": "quantitative", "scale": {"domain": [0, 1.1], "nice": false}, "axis": null},
    "color": {"field": "s", "type": "nominal", "legend": null}}},
  {"width": 74.5, "height": 190, "data": {"values": []}, "mark": "point", "view": {"stroke": null}},
  {"width": 181, "height": 190, "layer": [
    {"data": {"name": "cont"}, "transform": [{"filter": "datum.p==0 && datum.lev=='o'"}], "mark": {"type": "area", "color": "#a8cbf3", "interpolate": "monotone", "clip": true},
     "encoding": {"x": {"field": "x", "type": "quantitative", "scale": {"domain": [0.48, 10.33], "nice": false, "zero": false}, "axis": {"values": [2,4,6,8], "format": "d", "title": "δ"}},
      "y": {"field": "lo", "type": "quantitative", "scale": {"domain": [0, 2.0], "nice": false}, "axis": {"values": [0.5,1,1.5], "format": ".1f", "title": "a₀", "labelPadding": 9}}, "y2": {"field": "hi"}}},
    {"data": {"name": "cont"}, "transform": [{"filter": "datum.p==0 && datum.lev=='i'"}], "mark": {"type": "area", "color": "#2a84e9", "interpolate": "monotone", "clip": true},
     "encoding": {"x": {"field": "x", "type": "quantitative"}, "y": {"field": "lo", "type": "quantitative"}, "y2": {"field": "hi"}}},
    {"data": {"name": "cont"}, "transform": [{"filter": "datum.p==3 && datum.lev=='o'"}], "mark": {"type": "area", "fillOpacity": 0.4, "strokeWidth": 0.8, "strokeOpacity": 0.85, "interpolate": "monotone", "clip": true},
     "encoding": {"x": {"field": "x", "type": "quantitative"}, "y": {"field": "lo", "type": "quantitative"}, "y2": {"field": "hi"}, "color": {"field": "s", "type": "nominal", "legend": null},
      "stroke": {"field": "s", "type": "nominal", "scale": {"domain": ["No EFE","AQUAL constant","AQUAL max clust","QUMOND constant","QUMOND max clust","Quadrupole"], "range": ["#356b10","#282d7d","#2aa87d","#777777","#e44b3c","#2f88ef"]}, "legend": null}}},
    {"data": {"name": "cont"}, "transform": [{"filter": "datum.p==3 && datum.lev=='i'"}], "mark": {"type": "area", "opacity": 0.85, "interpolate": "monotone", "clip": true},
     "encoding": {"x": {"field": "x", "type": "quantitative"}, "y": {"field": "lo", "type": "quantitative"}, "y2": {"field": "hi"}, "color": {"field": "s", "type": "nominal", "legend": null}}}
  ]},
  {"width": 181, "height": 190, "data": {"name": "lines"}, "transform": [{"filter": "datum.m=='a' && (datum.p==0 || datum.p==3)"}],
   "mark": {"type": "line", "strokeWidth": 1.2, "interpolate": "monotone", "clip": true},
   "encoding": {
    "x": {"field": "x", "type": "quantitative", "scale": {"domain": [0, 2.0], "nice": false, "zero": false}, "axis": {"values": [0.5,1,1.5], "format": ".1f", "title": "a₀"}},
    "y": {"field": "y", "type": "quantitative", "scale": {"domain": [0, 1.1], "nice": false}, "axis": null},
    "color": {"field": "s", "type": "nominal", "legend": null}}}
]
}
